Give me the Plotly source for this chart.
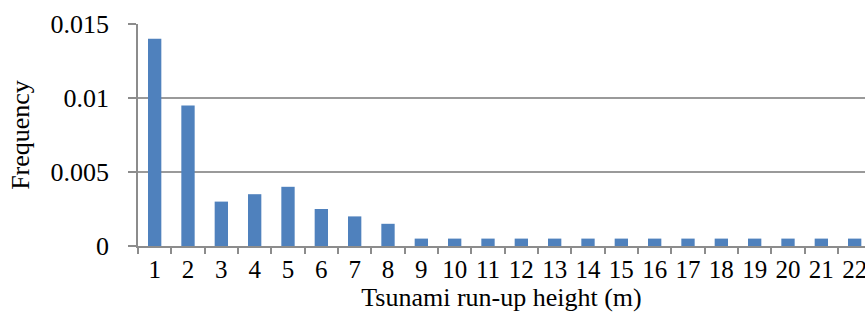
import plotly.graph_objects as go

heights = [str(i) for i in range(1, 23)]
frequency = [0.014, 0.0095, 0.003, 0.0035, 0.004, 0.0025, 0.002, 0.0015,
             0.0005, 0.0005, 0.0005, 0.0005, 0.0005, 0.0005, 0.0005, 0.0005,
             0.0005, 0.0005, 0.0005, 0.0005, 0.0005, 0.0005]
y_ticks = [0, 0.005, 0.01, 0.015]
y_tick_text = ["0", "0.005", "0.01", "0.015"]

font_family = "Liberation Serif, Times New Roman, serif"

fig = go.Figure(go.Bar(x=heights, y=frequency, marker_color="#4f81bd",
                       marker_line_width=0))

fig.update_layout(
    width=865, height=325,
    margin=dict(l=138, r=0, t=24, b=79),
    plot_bgcolor="white", paper_bgcolor="white",
    bargap=0.6,
    showlegend=False,
    font=dict(family=font_family, size=26, color="black"),
)
fig.update_xaxes(
    type="category",
    range=[-0.5, 21.31],
    automargin=False,
    tickson="boundaries",
    tickangle=0,
    ticks="outside", ticklen=6, tickcolor="#8c8c8c", tickwidth=1.5,
    showline=True, linecolor="#8c8c8c", linewidth=1.5,
    showgrid=False,
    title=dict(text="Tsunami run-up height (m)", font=dict(size=26), standoff=4),
    tickfont=dict(size=25),
)
fig.update_yaxes(
    range=[0, 0.015],
    automargin=False,
    tickvals=y_ticks, ticktext=y_tick_text,
    ticks="outside", ticklen=8, tickcolor="#8c8c8c", tickwidth=1.5,
    ticklabelstandoff=14,
    showline=True, linecolor="#8c8c8c", linewidth=1.5,
    showgrid=True, gridcolor="#9a9a9a", gridwidth=1.5,
    zeroline=False,
    title=dict(text="Frequency", font=dict(size=26), standoff=13),
    tickfont=dict(size=26),
)

fig.write_html(
    "out.html",
    config={"displayModeBar": False},
    post_script="document.body.style.margin='0';document.body.style.overflow='hidden';",
)
